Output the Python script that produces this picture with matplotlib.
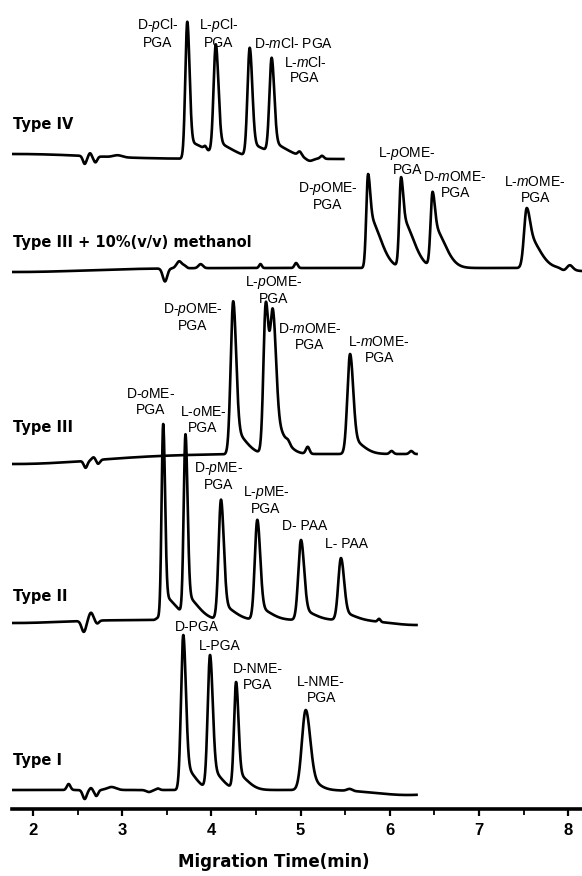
import numpy as np
import matplotlib.pyplot as plt

plt.rcParams['font.family'] = ['Liberation Sans', 'DejaVu Sans']
plt.rcParams['mathtext.fontset'] = 'custom'
plt.rcParams['mathtext.rm'] = 'Liberation Sans'
plt.rcParams['mathtext.it'] = 'Liberation Sans:italic'
plt.rcParams['mathtext.bf'] = 'Liberation Sans:bold'

# run names and migration time window (min)
runs = ["Type I", "Type II", "Type III", "Type III + 10%(v/v) methanol", "Type IV"]
run_end = [6.30, 6.30, 6.30, 8.16, 5.48]
run_start = 1.77

# peaks: migration time (min), height (a.u.), width (min)
type1_t = [3.685, 3.985, 4.277, 5.058]
type1_h = [155, 134, 107, 80]
type1_w = [0.025, 0.026, 0.023, 0.043]

type2_t = [3.46, 3.71, 4.108, 4.515, 5.005, 5.453]
type2_h = [196, 181, 120, 100, 80, 62]
type2_w = [0.018, 0.02, 0.027, 0.028, 0.03, 0.03]

type3_t = [4.245, 4.61, 4.69, 5.555]
type3_h = [153, 148, 123, 100]
type3_w = [0.028, 0.026, 0.03, 0.03]

meoh_t = [5.757, 6.127, 6.48, 7.536]
meoh_h = [94, 90, 75, 60]
meoh_w = [0.02, 0.02, 0.022, 0.03]

type4_t = [3.73, 4.05, 4.43, 4.676]
type4_h = [137, 110, 109, 95]
type4_w = [0.022, 0.025, 0.025, 0.025]

# tailing of each run: fraction of peak in the tail, tail width (min)
tail_frac = [0.15, 0.12, 0.15, 0.55, 0.12]
tail_w = [0.12, 0.14, 0.13, 0.13, 0.2]

# baseline disturbances: time (min), amplitude (a.u.), width (min)
type1_bl_t = [2.40, 2.58, 2.65, 2.71, 2.88, 3.30, 3.40, 5.55, 6.20]
type1_bl_a = [6, -9, 2, -6, 3, -2, 1.5, 2, -5]
type1_bl_w = [0.02, 0.022, 0.015, 0.02, 0.05, 0.03, 0.02, 0.03, 0.35]

type2_bl_t = [1.80, 2.57, 2.65, 2.72, 3.40, 5.88, 6.30]
type2_bl_a = [-3, -11, 8, -3, 2, 3, -5]
type2_bl_w = [0.5, 0.025, 0.025, 0.02, 0.02, 0.015, 0.3]

type3_bl_t = [1.80, 2.59, 2.68, 2.73, 4.86, 5.08, 6.02, 6.24]
type3_bl_a = [-10, -7, 3, -4, 3, 7, 3, 3]
type3_bl_w = [0.9, 0.02, 0.02, 0.02, 0.02, 0.02, 0.02, 0.02]

meoh_bl_t = [1.80, 3.48, 3.64, 3.70, 3.88, 4.55, 4.95, 7.95, 8.02, 8.16]
meoh_bl_a = [-4, -13, 7, 2, 4, 4, 5, -2, 4, -3]
meoh_bl_w = [0.8, 0.025, 0.03, 0.02, 0.025, 0.015, 0.018, 0.03, 0.03, 0.1]

type4_bl_t = [1.80, 2.58, 2.64, 2.70, 2.95, 3.93, 4.99, 5.10, 5.24]
type4_bl_a = [5, -8, 3, -6, 2, 3, 4, -3, 3]
type4_bl_w = [0.8, 0.02, 0.015, 0.02, 0.05, 0.015, 0.02, 0.04, 0.02]

peaks = [(type1_t, type1_h, type1_w), (type2_t, type2_h, type2_w),
         (type3_t, type3_h, type3_w), (meoh_t, meoh_h, meoh_w),
         (type4_t, type4_h, type4_w)]
baselines = [(type1_bl_t, type1_bl_a, type1_bl_w), (type2_bl_t, type2_bl_a, type2_bl_w),
             (type3_bl_t, type3_bl_a, type3_bl_w), (meoh_bl_t, meoh_bl_a, meoh_bl_w),
             (type4_bl_t, type4_bl_a, type4_bl_w)]

# vertical stacking of the traces
offsets = [19, 189, 355, 541, 650]
run_label_y = [49, 213, 382, 567, 685]

# peak labels: text, time, height
peak_labels = [
    ("D-$p$Cl-\nPGA", 3.40, 776), ("L-$p$Cl-\nPGA", 4.086, 776),
    ("D-$m$Cl- PGA", 4.916, 766), ("L-$m$Cl-\nPGA", 5.05, 739),
    ("D-$p$OME-\nPGA", 5.308, 613), ("L-$p$OME-\nPGA", 6.194, 648),
    ("D-$m$OME-\nPGA", 6.733, 624), ("L-$m$OME-\nPGA", 7.63, 619),
    ("D-$p$OME-\nPGA", 3.794, 492), ("L-$p$OME-\nPGA", 4.70, 519),
    ("D-$m$OME-\nPGA", 5.106, 472), ("L-$m$OME-\nPGA", 5.88, 459),
    ("D-$o$ME-\nPGA", 3.323, 407), ("L-$o$ME-\nPGA", 3.906, 389),
    ("D-$p$ME-\nPGA", 4.086, 333), ("L-$p$ME-\nPGA", 4.613, 309),
    ("D- PAA", 5.05, 283), ("L- PAA", 5.51, 265),
    ("D-PGA", 3.839, 182), ("L-PGA", 4.097, 163),
    ("D-NME-\nPGA", 4.523, 132), ("L-NME-\nPGA", 5.23, 119),
]


def trace(t, pk, bl, tf, tw):
    y = np.zeros_like(t)
    for t0, h, w in zip(*pk):
        d = t - t0
        main = np.exp(-0.5 * (d / np.where(d < 0, w, w * 1.15)) ** 2)
        tail = np.exp(-0.5 * (d / np.where(d < 0, w, tw)) ** 2)
        y += h * ((1 - tf) * main + tf * tail)
    for t0, a, w in zip(*bl):
        y += a * np.exp(-0.5 * ((t - t0) / w) ** 2)
    return y


fig = plt.figure(figsize=(5.82, 8.76), dpi=100)
ax = fig.add_axes([12 / 582, 1 - 809 / 876, 570 / 582, 809 / 876])

for i in range(len(runs)):
    t = np.linspace(run_start, run_end[i], 3000)
    y = trace(t, peaks[i], baselines[i], tail_frac[i], tail_w[i])
    ax.plot(t, y + offsets[i], color="black", lw=1.9, solid_joinstyle="round")
    ax.text(1.775, run_label_y[i], runs[i], family="DejaVu Sans", fontweight="bold",
            fontsize=10.5, ha="left", va="center")

for txt, x, y in peak_labels:
    ax.text(x, y, txt, fontsize=10, ha="center", va="center", multialignment="center",
            linespacing=1.1)

ax.set_xlim(1.765, 8.155)
ax.set_ylim(0, 809)
for s in ["left", "right", "top"]:
    ax.spines[s].set_visible(False)
ax.spines["bottom"].set_linewidth(2.6)
ax.set_yticks([])
ax.set_xticks(np.arange(2, 9, 1))
ax.set_xticks(np.arange(2.5, 8.5, 1), minor=True)
ax.tick_params(axis="x", which="major", length=5, width=1.6, pad=5, labelsize=12)
ax.tick_params(axis="x", which="minor", length=4, width=1.3)
for lb in ax.get_xticklabels():
    lb.set_fontweight("bold")
ax.set_xlabel("Migration Time(min)", family="DejaVu Sans", fontweight="bold",
              fontsize=12)
ax.xaxis.set_label_coords(0.46, -0.054)

fig.savefig("out.png", dpi=100)
